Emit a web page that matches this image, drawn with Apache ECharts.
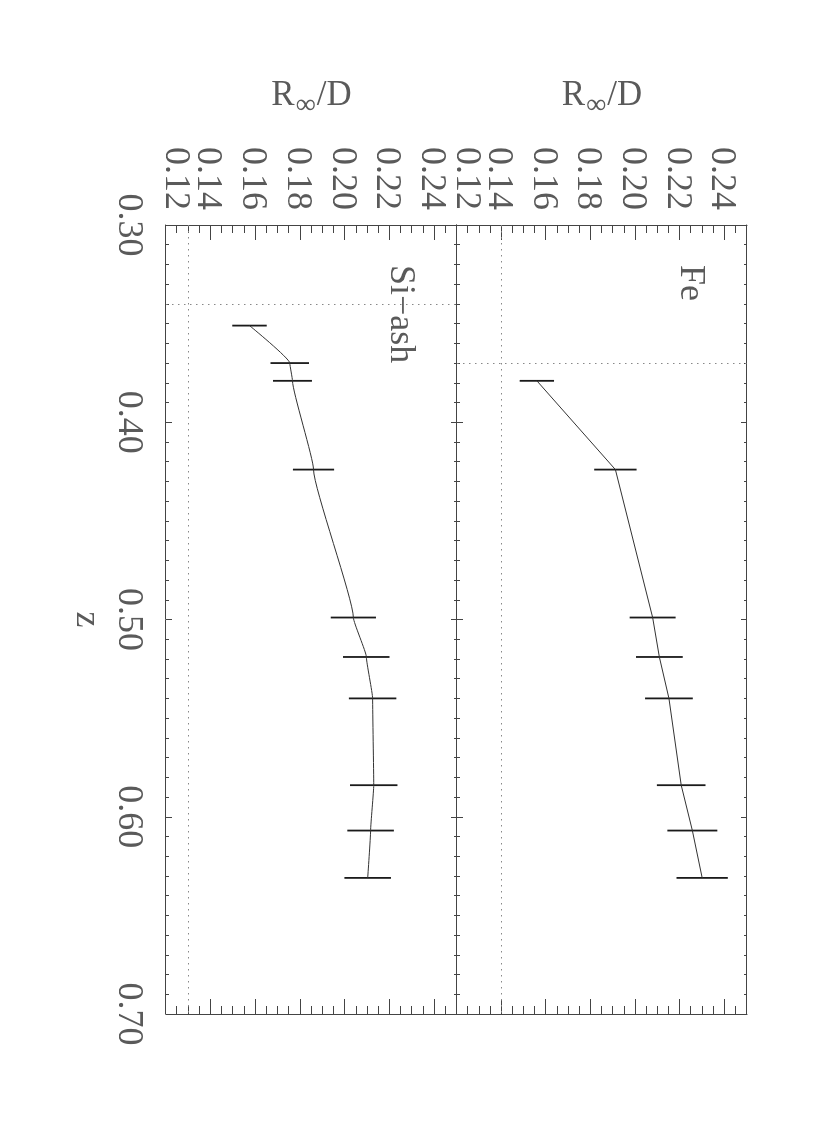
<!DOCTYPE html>
<html>
<head>
<meta charset="utf-8">
<script src="https://cdn.jsdelivr.net/npm/echarts@6/dist/echarts.min.js"></script>
<style>
  html, body { margin: 0; padding: 0; background: #fff; }
  #page { position: relative; width: 830px; height: 1127px; overflow: hidden; }
  /* the plot is drawn landscape and turned a quarter clockwise */
  #chart {
    position: absolute; left: 0; top: 0;
    width: 1127px; height: 830px;
    transform-origin: 0 0;
    transform: translate(830px, 0) rotate(90deg);
  }
</style>
</head>
<body>
<div id="page"><div id="chart"></div></div>
<script>
// Fe panel
const feZ   = [0.379, 0.424, 0.499, 0.519, 0.540, 0.584, 0.607, 0.631]
const feR   = [0.1558, 0.1910, 0.2077, 0.2107, 0.2150, 0.2205, 0.2255, 0.2299]
const feErr = [0.0077, 0.0095, 0.0103, 0.0105, 0.0107, 0.0109, 0.0112, 0.0115]
const feRefZ = 0.370
const feRefR = 0.139

// Si-ash panel
const siZ   = [0.351, 0.370, 0.379, 0.424, 0.499, 0.519, 0.540, 0.584, 0.607, 0.631]
const siR   = [0.1573, 0.1753, 0.1765, 0.1859, 0.2037, 0.2095, 0.2123, 0.2128, 0.2114, 0.2101]
const siErr = [0.0077, 0.0086, 0.0087, 0.0092, 0.0101, 0.0104, 0.0106, 0.0106, 0.0104, 0.0104]
const siRefZ = 0.340
const siRefR = 0.132

const zRange = [0.30, 0.70]
const rRange = [0.12, 0.25]
const rLabels = [0.14, 0.16, 0.18, 0.20, 0.22, 0.24]   // 0.12 is drawn on its own, nudged inward

const FONT = 'Liberation Serif'
const INK = '#444'
const TXT = '#5a5a5a'

const zip = (xs, ys) => xs.map((x, i) => [x, ys[i]])
const bars = (xs, ys, es) => xs.map((x, i) => [x, ys[i] - es[i], ys[i] + es[i]])

function xAx(grid, pos, labels) {
  return {
    type: 'value', gridIndex: grid, position: pos,
    min: zRange[0], max: zRange[1], interval: 0.1,
    axisLine: { onZero: false, lineStyle: { color: INK, width: 1 } },
    axisTick: { inside: true, length: 6, lineStyle: { color: INK } },
    minorTick: { show: true, splitNumber: 10, length: 3, lineStyle: { color: INK } },
    splitLine: { show: false },
    axisLabel: {
      show: labels, margin: 20, color: TXT, fontFamily: FONT, fontSize: 36,
      formatter: v => v.toFixed(2)
    },
    name: labels ? 'z' : '', nameLocation: 'middle', nameGap: 62,
    nameTextStyle: { color: TXT, fontFamily: FONT, fontSize: 36 }
  }
}

function yAx(grid, pos, major) {
  const ax = {
    type: 'value', gridIndex: grid, position: pos,
    min: rRange[0], max: rRange[1], interval: major ? 0.02 : 0.005,
    axisLine: { show: major, lineStyle: { color: INK, width: 1 } },
    axisTick: { inside: true, length: major ? 15 : 8, lineStyle: { color: INK } },
    splitLine: { show: false },
    axisLabel: { show: false }
  }
  if (pos === 'left') {
    const tag = major ? 'n' : 'm'
    ax.axisLabel = {
      show: true, margin: 15, color: TXT, fontFamily: FONT, fontSize: 36,
      customValues: major ? rLabels : [rRange[0]],
      formatter: v => '{' + tag + '|' + v.toFixed(2) + '}',
      rich: {
        n: { fontFamily: FONT, fontSize: 36, color: TXT, padding: [6, 0, 0, 0] },
        m: { fontFamily: FONT, fontSize: 36, color: TXT, padding: [0, 0, 18, 0] }
      }
    }
  }
  if (major && pos === 'left') {
    ax.name = '{a|R}{s|∞}{a|/D}'
    ax.nameLocation = 'middle'
    ax.nameGap = 105
    ax.nameTextStyle = {
      color: TXT, fontFamily: FONT,
      rich: {
        a: { fontSize: 35, fontFamily: FONT, color: TXT },
        s: { fontSize: 28, fontFamily: FONT, color: TXT, padding: [20, 1, 0, 1] }
      }
    }
  }
  return ax
}

function errorSeries(xi, yi, data) {
  return {
    type: 'custom', xAxisIndex: xi, yAxisIndex: yi, data: data,
    encode: { x: 0, y: [1, 2] },
    renderItem: (params, api) => {
      const a = api.coord([api.value(0), api.value(1)])
      const b = api.coord([api.value(0), api.value(2)])
      return {
        type: 'line',
        shape: { x1: a[0], y1: a[1], x2: b[0], y2: b[1] },
        style: { stroke: '#1a1a1a', lineWidth: 1.8 }
      }
    }
  }
}

function refLines(z, r) {
  return {
    silent: true, symbol: ['none', 'none'], label: { show: false },
    lineStyle: { color: '#888', width: 1, type: [1.5, 4.5] },
    data: [{ xAxis: z }, { yAxis: r }]
  }
}

const chart = echarts.init(document.getElementById('chart'))
chart.setOption({
  animation: false,
  backgroundColor: '#fff',
  grid: [
    { left: 225, width: 789, top: 83, height: 290 },
    { left: 225, width: 789, top: 373, height: 291 }
  ],
  xAxis: [
    xAx(0, 'bottom', false), xAx(0, 'top', false),
    xAx(1, 'bottom', true), xAx(1, 'top', false)
  ],
  yAxis: [
    yAx(0, 'left', true), yAx(0, 'left', false), yAx(0, 'right', true), yAx(0, 'right', false),
    yAx(1, 'left', true), yAx(1, 'left', false), yAx(1, 'right', true), yAx(1, 'right', false)
  ],
  graphic: [
    { type: 'text', left: 265, top: 122, style: { text: 'Fe', font: '36px "Liberation Serif"', fill: TXT } },
    { type: 'text', left: 265, top: 412, style: { text: 'Si−ash', font: '36px "Liberation Serif"', fill: TXT } }
  ],
  series: [
    {
      type: 'line', xAxisIndex: 0, yAxisIndex: 0, data: zip(feZ, feR),
      symbol: 'none', lineStyle: { color: '#333', width: 1 },
      markLine: refLines(feRefZ, feRefR)
    },
    errorSeries(0, 0, bars(feZ, feR, feErr)),
    {
      type: 'line', xAxisIndex: 2, yAxisIndex: 4, data: zip(siZ, siR),
      symbol: 'none', smooth: 0.12, smoothMonotone: 'x',
      lineStyle: { color: '#333', width: 1 },
      markLine: refLines(siRefZ, siRefR)
    },
    errorSeries(2, 4, bars(siZ, siR, siErr))
  ]
})
</script>
</body>
</html>
